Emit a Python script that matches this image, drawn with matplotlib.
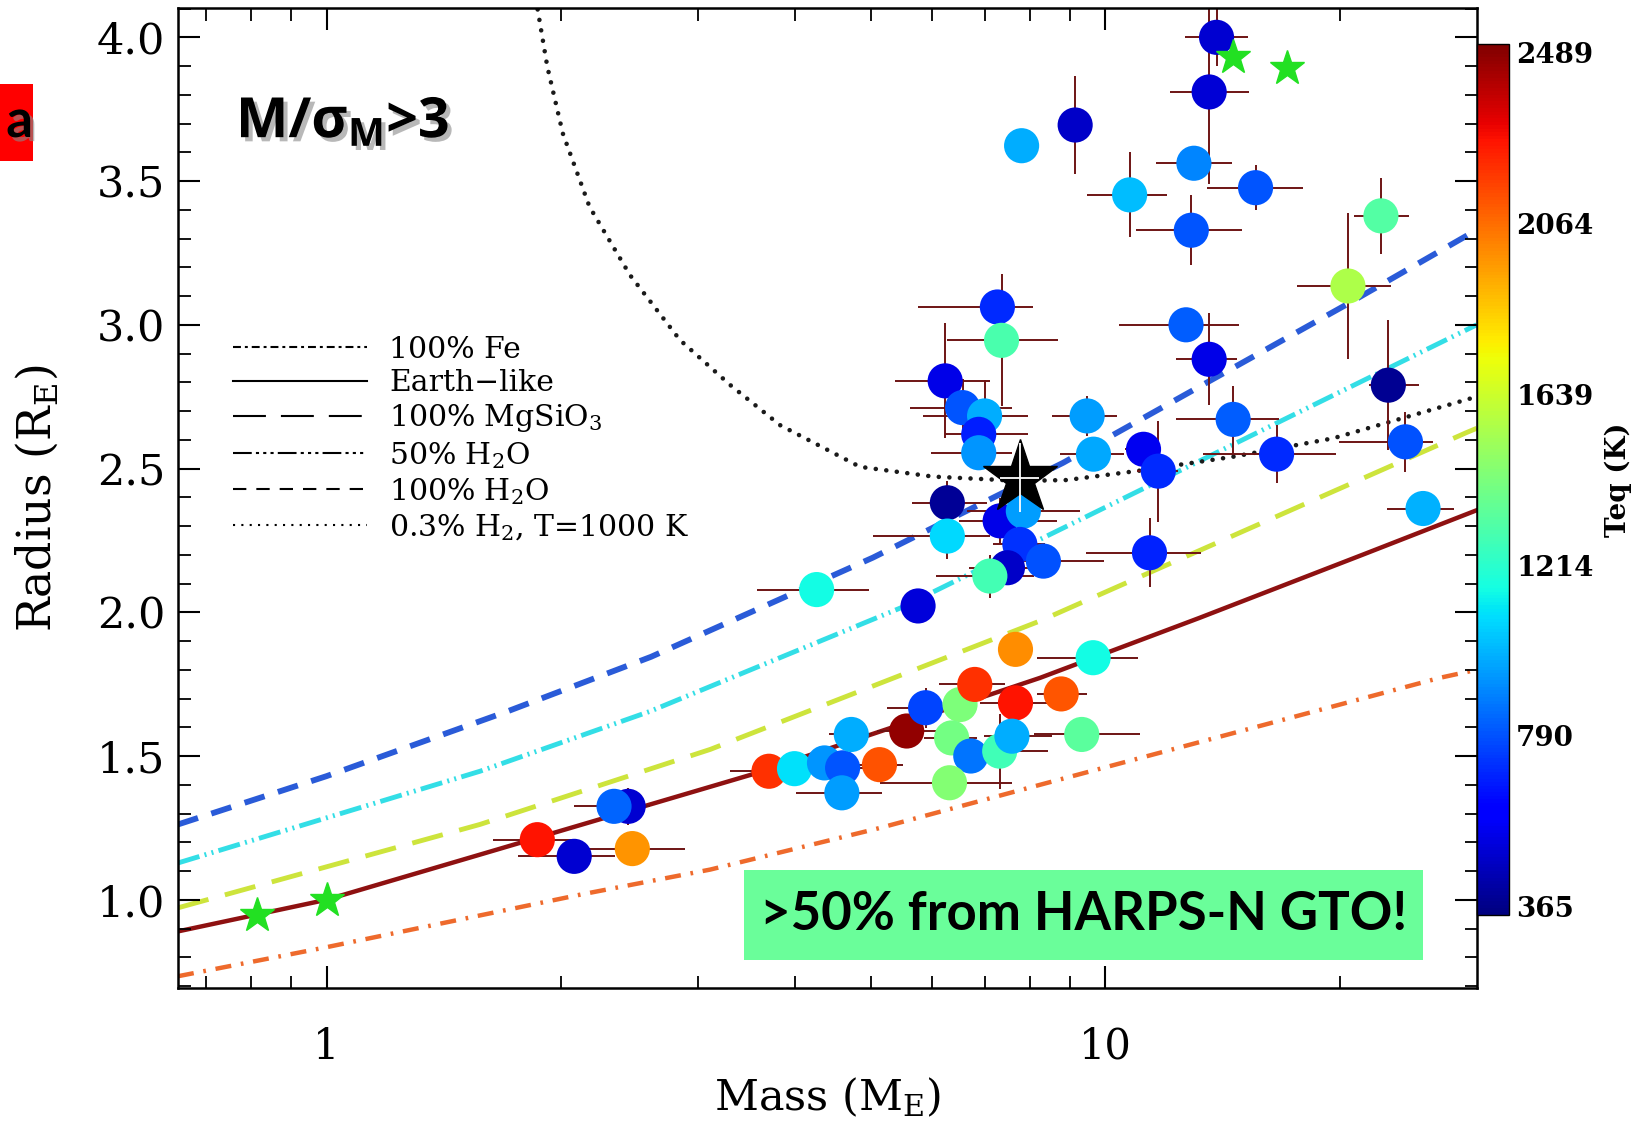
import numpy as np
import matplotlib
matplotlib.use("Agg")
import matplotlib.pyplot as plt
from matplotlib.lines import Line2D
from matplotlib.patches import Rectangle
from matplotlib.colors import Normalize
import matplotlib.patheffects as pe
from matplotlib.ticker import FixedLocator, NullFormatter, MultipleLocator

# ---------------- data ----------------
mass = [13.9, 13.6, 9.15, 7.81, 13.0, 15.6, 10.75, 12.9, 22.6, 20.5,
        12.7, 13.6, 14.6, 23.1, 24.3, 25.6, 16.6, 9.48, 9.66, 11.2,
        11.7, 11.4, 7.27, 7.36, 6.23, 6.56, 7.0, 6.88, 6.88, 6.27,
        6.27, 7.33, 7.85, 7.77, 8.33, 7.49, 7.11, 4.26, 5.75, 1.865,
        2.08, 2.44, 2.34, 2.47, 3.70, 3.99, 4.36, 4.60, 4.72, 4.59,
        5.13, 5.56, 5.88, 6.51, 6.80, 7.67, 6.35, 6.72, 7.32, 7.59,
        6.31, 7.67, 9.65, 8.78, 9.33]
radius = [4.0, 3.81, 3.695, 3.623, 3.562, 3.477, 3.452, 3.329, 3.379, 3.135,
          3.0, 2.88, 2.671, 2.79, 2.593, 2.361, 2.55, 2.683, 2.55, 2.567,
          2.491, 2.207, 3.062, 2.946, 2.805, 2.712, 2.683, 2.619, 2.555, 2.381,
          2.265, 2.318, 2.352, 2.236, 2.178, 2.155, 2.126, 2.079, 2.022, 1.209,
          1.151, 1.325, 1.325, 1.178, 1.447, 1.456, 1.476, 1.459, 1.575, 1.372,
          1.47, 1.587, 1.668, 1.679, 1.749, 1.685, 1.563, 1.50, 1.517, 1.569,
          1.407, 1.871, 1.842, 1.716, 1.575]
teq = [500, 510, 480, 980, 900, 800, 1020, 800, 1320, 1560,
       810, 540, 810, 380, 790, 990, 700, 950, 970, 560,
       700, 690, 700, 1300, 540, 800, 980, 680, 930, 390,
       1080, 540, 950, 720, 790, 480, 1280, 1150, 520, 2270,
       500, 500, 830, 1970, 2200, 1090, 930, 800, 980, 950,
       2130, 2470, 760, 1430, 2200, 2270, 1410, 860, 1270, 980,
       1450, 1990, 1150, 2120, 1340]
mass_err_lo = [1.24, 1.5, 0, 0, 1.38, 2.1, 1.28, 1.93, 1.74, 2.85,
               2.27, 1.28, 2.26, 1.3, 4.36, 2.6, 3.25, 0.94, 0.9, 0.6,
               0.7, 1.94, 1.52, 1.09, 0.86, 0.95, 1.16, 0.65, 0.9, 0.63,
               1.23, 0.84, 1.2, 0.6, 1.2, 0.8, 1.04, 0.69, 0, 0.23,
               0.32, 0, 0.26, 0.31, 0.4, 0, 0, 0.3, 0.3, 0.58,
               0.37, 0.47, 0.63, 0, 0.68, 0.77, 0.5, 0, 0.8, 0.6,
               1.17, 0, 1.48, 0.61, 1.24]
mass_err_hi = [1.37, 1.7, 0, 0, 1.53, 2.36, 1.24, 2.07, 1.93, 2.76,
               2.16, 1.18, 2.13, 2.2, 2.1, 2.45, 3.2, 0.88, 0.9, 0.6,
               0.7, 1.89, 0.81, 1.35, 0.88, 1.03, 0.96, 1.08, 0.71, 0.78,
               0.84, 1.33, 1.43, 0.6, 1.64, 0.7, 1.0, 0.71, 0, 0.23,
               0.27, 0, 0.26, 0.42, 0.4, 0, 0, 0.3, 0.3, 0.58,
               0.37, 0.52, 0.33, 0, 0.64, 0.77, 0.5, 0, 1.12, 0.95,
               1.28, 0, 1.38, 0.69, 1.75]
radius_err = [0.10, 0.32, 0.17, 0, 0.05, 0.078, 0.148, 0.122, 0.133, 0.255,
              0, 0.16, 0.116, 0.226, 0.104, 0, 0.10, 0.07, 0, 0,
              0.176, 0.12, 0, 0.23, 0.2, 0.1, 0.125, 0, 0, 0.075,
              0.08, 0.08, 0, 0, 0, 0, 0.075, 0, 0, 0,
              0, 0.065, 0, 0, 0, 0, 0, 0, 0, 0.052,
              0, 0.04, 0.07, 0, 0, 0, 0, 0.05, 0.13, 0,
              0, 0, 0, 0, 0]

# Solar-system planets (green stars)
solar_mass = [0.815, 1.0, 14.6, 17.1]
solar_radius = [0.948, 1.0, 3.93, 3.895]

# Highlighted planet (black star)
target_mass = [7.77]
target_radius = [2.468]
target_mass_err = [0.45]
target_radius_err = [0.12]

# Model curves
fe_mass = [0.6445, 1.0, 2.12, 3.11, 5.14, 8.25, 26.9, 30.0]
fe_radius = [0.734, 0.835, 1.018, 1.105, 1.25, 1.40, 1.772, 1.80]
earth_mass = [0.6445, 1.0, 1.574, 3.51, 8.25, 13.2, 21.4, 30.0]
earth_radius = [0.89, 1.0, 1.157, 1.435, 1.772, 1.98, 2.20, 2.355]
mgsio3_mass = [0.6445, 1.574, 3.11, 8.25, 29.1, 30.0]
mgsio3_radius = [0.972, 1.262, 1.523, 1.97, 2.625, 2.64]
h2o50_mass = [0.6445, 1.574, 2.60, 5.47, 8.0, 30.0]
h2o50_radius = [1.128, 1.447, 1.655, 2.016, 2.236, 3.0]
h2o_mass = [0.6445, 1.0, 1.706, 2.61, 5.03, 8.83, 20.4, 30.0]
h2o_radius = [1.262, 1.43, 1.655, 1.845, 2.19, 2.52, 3.07, 3.33]
h2_mass = [1.85, 1.921, 2.011, 2.176, 2.453, 2.844, 3.298, 3.823, 4.842,
           6.008, 7.77, 8.92, 11.24, 14.59, 19.61, 30.0]
h2_radius = [4.16, 3.898, 3.666, 3.411, 3.173, 2.947, 2.791, 2.651, 2.506,
             2.472, 2.457, 2.46, 2.495, 2.541, 2.605, 2.75]

legend_labels = ["100% Fe", "Earth\u2212like", r"100% MgSiO$_\mathregular{3}$",
                 r"50% H$_\mathregular{2}$O", r"100% H$_\mathregular{2}$O",
                 r"0.3% H$_\mathregular{2}$, T=1000 K"]
y_ticks = [1.0, 1.5, 2.0, 2.5, 3.0, 3.5, 4.0]
y_ticklabels = ["1.0", "1.5", "2.0", "2.5", "3.0", "3.5", "4.0"]
x_ticks = [1, 10]
x_ticklabels = ["1", "10"]
cbar_ticks = [365, 790, 1214, 1639, 2064, 2489]

# ---------------- figure ----------------
W, H, DPI = 1646, 1123, 100
plt.rcParams['font.family'] = ['DejaVu Serif']
plt.rcParams['mathtext.fontset'] = 'dejavuserif'

fig = plt.figure(figsize=(W / DPI, H / DPI), dpi=DPI)
fig.patch.set_facecolor('white')


def rect(x0, y0, x1, y1):
    return [x0 / W, 1 - y1 / H, (x1 - x0) / W, (y1 - y0) / H]


ax = fig.add_axes(rect(178, 8.3, 1476.7, 988.3))
ax.set_xscale('log')
ax.set_xlim(0.6445, 30.0)
ax.set_ylim(0.692, 4.101)

# curves
ax.plot(fe_mass, fe_radius, color='#EE6A2C', lw=3.2, ls=(0, (3.6, 2.2, 0.6, 2.2)), zorder=1.5)
ax.plot(earth_mass, earth_radius, color='#8E1111', lw=3.2, ls='-', zorder=1.5)
ax.plot(mgsio3_mass, mgsio3_radius, color='#CDE43C', lw=3.5, ls=(0, (6.5, 3.5)), zorder=1.5)
ax.plot(h2o50_mass, h2o50_radius, color='#33DEE6', lw=3.5,
        ls=(0, (4.6, 1.1, 0.4, 1.1, 0.4, 1.1)), zorder=1.5)
ax.plot(h2o_mass, h2o_radius, color='#2A5BD8', lw=4.2, ls=(0, (3.6, 2.4)), zorder=1.5)
ax.plot(h2_mass, h2_radius, color='#1a1a1a', lw=3.3, ls=(0, (0.01, 2.3)),
        dash_capstyle='round', zorder=1.5)

# error bars + points
ax.errorbar(mass, radius, xerr=[mass_err_lo, mass_err_hi], yerr=radius_err,
            fmt='none', ecolor='#6E1414', elinewidth=1.4, capsize=0, zorder=2)
norm = Normalize(vmin=343, vmax=2512)
sc = ax.scatter(mass, radius, c=teq, cmap='jet', norm=norm, s=640,
                edgecolors='none', zorder=3)

ax.plot(solar_mass, solar_radius, ls='none', marker='*', ms=26,
        color='#22E022', mec='#22E022', zorder=4)
ax.plot(target_mass, target_radius, ls='none', marker='*', ms=56,
        color='black', zorder=5)
ax.errorbar(target_mass, target_radius, xerr=target_mass_err, yerr=target_radius_err,
            fmt='none', ecolor='white', elinewidth=1.3, capsize=0, zorder=6)

# axes styling
for s in ax.spines.values():
    s.set_linewidth(1.8)
ax.xaxis.set_major_locator(FixedLocator(x_ticks))
ax.set_xticklabels(x_ticklabels)
ax.xaxis.set_minor_locator(FixedLocator([0.7, 0.8, 0.9, 2, 3, 4, 5, 6, 7, 8, 9, 20]))
ax.xaxis.set_minor_formatter(NullFormatter())
ax.yaxis.set_major_locator(FixedLocator(y_ticks))
ax.set_yticklabels(y_ticklabels)
ax.yaxis.set_minor_locator(MultipleLocator(0.1))
ax.tick_params(which='major', direction='in', length=16, width=1.5,
               top=True, right=True)
ax.tick_params(which='minor', direction='in', length=9, width=1.3, top=True, right=True)
ax.tick_params(axis='y', which='major', pad=9, labelsize=31)
ax.tick_params(axis='x', which='major', pad=27, labelsize=30)

ax.set_xlabel(r'Mass (M$_\mathregular{E}$)', fontsize=31)
ax.xaxis.label.set_va('center')
ax.xaxis.set_label_coords(0.5, -0.111)
ax.set_ylabel(r'Radius (R$_\mathregular{E}$)', fontsize=33)
ax.yaxis.label.set_va('center')
ax.yaxis.set_label_coords(-0.1085, 0.5)

# legend (black sample lines)
handles = [
    Line2D([], [], color='black', lw=1.5, ls=(0, (3.8, 1.9, 1.4, 1.9))),
    Line2D([], [], color='black', lw=1.5, ls='-'),
    Line2D([], [], color='black', lw=1.5, ls=(0, (15.8, 7.2))),
    Line2D([], [], color='black', lw=1.5, ls=(0, (9, 2, 1.5, 2, 1.5, 2, 1.5, 2))),
    Line2D([], [], color='black', lw=1.5, ls=(0, (6.4, 4.8))),
    Line2D([], [], color='black', lw=1.5, ls=(0, (1, 3))),
]
ax.legend(handles, legend_labels, loc='upper left', bbox_to_anchor=(0.042, 0.666),
          frameon=False, fontsize=21.5, handlelength=4.5, handletextpad=0.75,
          labelspacing=0.18, borderpad=0, borderaxespad=0)

# colorbar
cax = fig.add_axes(rect(1476.7, 43.6, 1509.3, 915))
cb = fig.colorbar(sc, cax=cax, ticks=cbar_ticks)
cb.ax.tick_params(length=0, pad=5, labelsize=20)
for t in cb.ax.get_yticklabels():
    t.set_fontweight('bold')
cb.set_label('Teq (K)', fontsize=20, fontweight='bold', labelpad=8)
cb.outline.set_linewidth(1.0)

# annotations
shadow = [pe.withSimplePatchShadow(offset=(3, -3), shadow_rgbFace='#8a8a8a', alpha=0.6)]
fig.text(236 / W, 1 - 137.5 / H, r'M/σ$_\mathregular{M}$>3', fontsize=40,
         fontweight='bold', family='Open Sans', ha='left', va='baseline',
         color='black', path_effects=shadow)

fig.add_artist(Rectangle((0, 1 - 160.6 / H), 32.5 / W, (160.6 - 84) / H,
                         transform=fig.transFigure, facecolor='#FF0000',
                         edgecolor='none', zorder=5))
fig.text(33 / W, 1 - 137 / H, 'a', fontsize=38, fontweight='bold', family='Lato',
         ha='right', va='baseline', color='black', zorder=6, path_effects=shadow)

fig.add_artist(Rectangle((744 / W, 1 - 959.5 / H), (1423 - 744) / W, (959.5 - 870) / H,
                         transform=fig.transFigure, facecolor='#6AFE9A',
                         edgecolor='none', zorder=5))
fig.text(1083.5 / W, 1 - 914.8 / H, '>50% from HARPS-N GTO!', fontsize=38,
         fontweight='bold', family='Lato', ha='center', va='center',
         color='black', zorder=6)

fig.savefig('out.png', dpi=DPI)
